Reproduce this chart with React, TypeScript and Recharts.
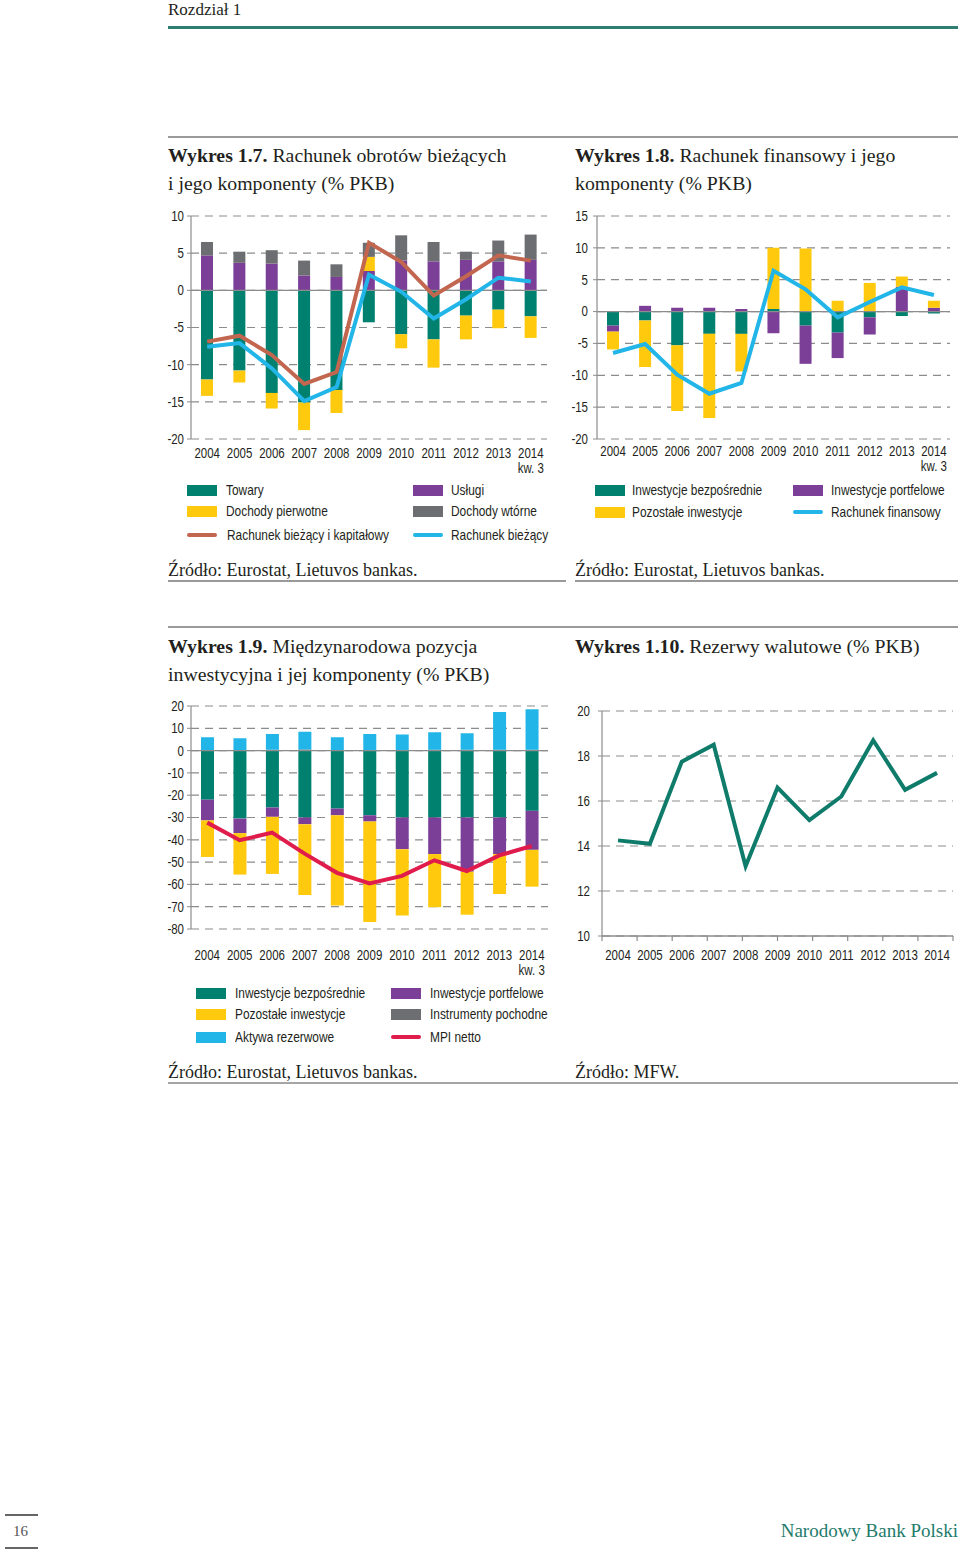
import React from "react";
import {
  ComposedChart,
  Bar,
  Line,
  XAxis,
  YAxis,
  CartesianGrid,
  ReferenceLine,
} from "recharts";

// categories
const years = ["2004", "2005", "2006", "2007", "2008", "2009", "2010", "2011", "2012", "2013", "2014"];

// Wykres 1.7 - rachunek obrotów bieżących (% PKB)
const towary = [-12.0, -10.8, -13.8, -15.1, -13.4, -4.3, -5.9, -6.6, -3.4, -2.6, -3.5];
const uslugi = [4.7, 3.7, 3.6, 2.0, 1.8, 2.6, 4.0, 3.9, 4.1, 3.9, 4.1];
const dochodyPierwotne = [-2.2, -1.6, -2.1, -3.7, -3.1, 1.9, -1.9, -3.8, -3.2, -2.5, -2.9];
const dochodyWtorne = [1.8, 1.5, 1.8, 2.0, 1.7, 1.9, 3.4, 2.6, 1.1, 2.8, 3.4];
const rachBiezKap = [-6.9, -6.1, -8.7, -12.6, -11.0, 6.4, 3.8, -0.7, 1.9, 4.7, 4.0];
const rachBiez = [-7.6, -7.1, -10.5, -14.9, -13.0, 2.1, -0.2, -3.8, -1.2, 1.7, 1.2];
const ticks17 = [-20, -15, -10, -5, 0, 5, 10];

// Wykres 1.8 - rachunek finansowy (% PKB)
const bezp18 = [-2.2, -1.4, -5.3, -3.5, -3.5, 0.4, -2.2, -3.3, -0.9, -0.7, -0.3];
const portf18 = [-0.95, 0.9, 0.6, 0.6, 0.4, -3.4, -6.0, -4.0, -2.7, 3.9, 0.6];
const pozost18 = [-2.8, -7.3, -10.3, -13.2, -5.9, 9.6, 9.9, 1.7, 4.5, 1.6, 1.1];
const rachFin = [-6.5, -5.1, -9.9, -12.9, -11.2, 6.4, 3.5, -0.9, 1.5, 3.8, 2.6];
const ticks18 = [-20, -15, -10, -5, 0, 5, 10, 15];

// Wykres 1.9 - MPI (% PKB)
const bezp19 = [-22, -30.5, -25.5, -30, -26, -29, -30, -30, -30, -30, -27];
const portf19 = [-9.3, -6.5, -4.2, -3.0, -3.0, -2.8, -14.2, -16.4, -24.3, -16.4, -17.5];
const pozost19 = [-16.4, -18.6, -25.6, -31.7, -40.5, -45.1, -29.8, -23.8, -19.3, -17.9, -16.5];
const pochodne19 = [0.3, 0.3, 0.4, 0.5, 0.3, 0.3, 0.3, 0.4, 0.4, 0.4, 0.4];
const rezerwy19 = [5.7, 5.2, 7.1, 8.0, 5.7, 7.2, 6.9, 7.8, 7.4, 16.9, 18.1];
const mpiNetto = [-32.3, -40.2, -36.8, -46.2, -54.8, -59.6, -56.2, -49.2, -54.0, -47.0, -42.8];
const ticks19 = [-80, -70, -60, -50, -40, -30, -20, -10, 0, 10, 20];

// Wykres 1.10 - rezerwy walutowe (% PKB)
const rezerwyWal = [14.25, 14.1, 17.75, 18.5, 13.1, 16.6, 15.15, 16.2, 18.7, 16.5, 17.25];
const ticks110 = [10, 12, 14, 16, 18, 20];
const boundaryTicks = [0, 1, 2, 3, 4, 5, 6, 7, 8, 9, 10, 11];

const data17 = years.map((year, i) => ({
  year,
  towary: towary[i],
  uslugi: uslugi[i],
  pierwotne: dochodyPierwotne[i],
  wtorne: dochodyWtorne[i],
  biezKap: rachBiezKap[i],
  biez: rachBiez[i],
}));
const data18 = years.map((year, i) => ({
  year,
  bezp: bezp18[i],
  portf: portf18[i],
  pozost: pozost18[i],
  fin: rachFin[i],
}));
const data19 = years.map((year, i) => ({
  year,
  bezp: bezp19[i],
  portf: portf19[i],
  pozost: pozost19[i],
  pochodne: pochodne19[i],
  rezerwy: rezerwy19[i],
  mpi: mpiNetto[i],
}));
const data110 = years.map((year, i) => ({ year, rez: rezerwyWal[i] }));

// no narrow sans installed, so Liberation Sans is squeezed horizontally
const SANS = "'Liberation Sans', Arial, sans-serif";
const NARROW = 0.82;
const SERIF = "'Liberation Serif', 'Times New Roman', serif";
const TXT = "#231f20";
const GRID = "#8c8c8c";
const C = {
  teal: "#00806f",
  yellow: "#ffc90e",
  purple: "#7b3f98",
  grey: "#6d6e71",
  cyan: "#22b5e8",
  brown: "#c2664f",
  red: "#e01c4c",
  green: "#0f7b6a",
};

const NText = ({ x, y, anchor = "middle", children }: any) => (
  <text
    transform={`translate(${x},${y}) scale(${NARROW},1)`}
    textAnchor={anchor}
    dominantBaseline="central"
    fill={TXT}
    fontSize={14}
    fontFamily={SANS}
  >
    {children}
  </text>
);

const YTick = ({ x, y, payload }: any) => (
  <NText x={x} y={y} anchor="end">
    {payload.value}
  </NText>
);

const YearTick = ({ x, y, payload, dy0, kw }: any) => (
  <g>
    <NText x={x} y={y + dy0}>{payload.value}</NText>
    {kw && payload.value === "2014" && (
      <NText x={x + 13} y={y + dy0 + 15} anchor="end">
        kw. 3
      </NText>
    )}
  </g>
);

const LegendItem = ({ left, textLeft, cy, color, label, line }: any) => (
  <>
    <div
      style={{
        position: "absolute",
        left,
        top: line ? cy - 2 : cy - 5.5,
        width: 30,
        height: line ? 4 : 11,
        borderRadius: line ? 2 : 0,
        background: color,
      }}
    />
    <div
      style={{
        position: "absolute",
        left: textLeft,
        top: cy - 9,
        lineHeight: "18px",
        fontSize: 14.5,
        fontFamily: SANS,
        color: TXT,
        whiteSpace: "nowrap",
        transform: `scaleX(${NARROW})`,
        transformOrigin: "left center",
      }}
    >
      {label}
    </div>
  </>
);

const Title = ({ left, top, bold, children }: any) => (
  <div
    style={{
      position: "absolute",
      left,
      top,
      fontFamily: SERIF,
      fontSize: 19.8,
      lineHeight: "28px",
      color: TXT,
      whiteSpace: "nowrap",
    }}
  >
    <b>{bold}</b> {children}
  </div>
);

const Source = ({ left, top, children }: any) => (
  <div style={{ position: "absolute", left, top, fontFamily: SERIF, fontSize: 18, lineHeight: "20px", color: TXT, whiteSpace: "nowrap" }}>
    {children}
  </div>
);

const HLine = ({ left, right, top, color = "#999", h = 1.5 }: any) => (
  <div style={{ position: "absolute", left, top, width: right - left, height: h, background: color }} />
);

const yAxisProps = {
  width: 41,
  axisLine: { stroke: GRID, strokeWidth: 1.2 },
  tickLine: { stroke: GRID },
  tickSize: 4,
  tickMargin: 3,
  tick: (p: any) => <YTick {...p} />,
  interval: 0 as const,
  allowDataOverflow: true,
};

const Chart17 = () => (
  <ComposedChart width={402} height={280} data={data17} stackOffset="sign" barSize={12} margin={{ top: 16, right: 5, bottom: 0, left: 0 }}>
    <CartesianGrid vertical={false} stroke={GRID} strokeDasharray="8 6" strokeWidth={1.2} />
    <XAxis dataKey="year" axisLine={false} tickLine={false} tickSize={0} tickMargin={0} height={41} interval={0} tick={(p: any) => <YearTick {...p} dy0={14} kw />} />
    <YAxis domain={[-20, 10]} ticks={ticks17} {...yAxisProps} />
    <ReferenceLine y={0} stroke={GRID} strokeWidth={1.3} />
    <Bar dataKey="towary" stackId="s" fill={C.teal} isAnimationActive={false} />
    <Bar dataKey="uslugi" stackId="s" fill={C.purple} isAnimationActive={false} />
    <Bar dataKey="pierwotne" stackId="s" fill={C.yellow} isAnimationActive={false} />
    <Bar dataKey="wtorne" stackId="s" fill={C.grey} isAnimationActive={false} />
    <Line dataKey="biezKap" type="linear" stroke={C.brown} strokeWidth={4} dot={false} isAnimationActive={false} />
    <Line dataKey="biez" type="linear" stroke={C.cyan} strokeWidth={4} dot={false} isAnimationActive={false} />
  </ComposedChart>
);

const Chart18 = () => (
  <ComposedChart width={399} height={280} data={data18} stackOffset="sign" barSize={12} margin={{ top: 16, right: 5, bottom: 0, left: 0 }}>
    <CartesianGrid vertical={false} stroke={GRID} strokeDasharray="8 6" strokeWidth={1.2} />
    <XAxis dataKey="year" axisLine={false} tickLine={false} tickSize={0} tickMargin={0} height={41} interval={0} tick={(p: any) => <YearTick {...p} dy0={12} kw />} />
    <YAxis domain={[-20, 15]} ticks={ticks18} {...yAxisProps} tickMargin={5} />
    <ReferenceLine y={0} stroke={GRID} strokeWidth={1.3} />
    <Bar dataKey="bezp" stackId="s" fill={C.teal} isAnimationActive={false} />
    <Bar dataKey="portf" stackId="s" fill={C.purple} isAnimationActive={false} />
    <Bar dataKey="pozost" stackId="s" fill={C.yellow} isAnimationActive={false} />
    <Line dataKey="fin" type="linear" stroke={C.cyan} strokeWidth={4} dot={false} isAnimationActive={false} />
  </ComposedChart>
);

const Chart19 = () => (
  <ComposedChart width={403} height={289} data={data19} stackOffset="sign" barSize={13} margin={{ top: 16, right: 5, bottom: 0, left: 0 }}>
    <CartesianGrid vertical={false} stroke={GRID} strokeDasharray="8 6" strokeWidth={1.2} />
    <XAxis dataKey="year" axisLine={false} tickLine={false} tickSize={0} tickMargin={0} height={50} interval={0} tick={(p: any) => <YearTick {...p} dy0={26} kw />} />
    <YAxis domain={[-80, 20]} ticks={ticks19} {...yAxisProps} />
    <ReferenceLine y={0} stroke={GRID} strokeWidth={1.3} />
    <Bar dataKey="bezp" stackId="s" fill={C.teal} isAnimationActive={false} />
    <Bar dataKey="portf" stackId="s" fill={C.purple} isAnimationActive={false} />
    <Bar dataKey="pozost" stackId="s" fill={C.yellow} isAnimationActive={false} />
    <Bar dataKey="pochodne" stackId="s" fill={C.grey} isAnimationActive={false} />
    <Bar dataKey="rezerwy" stackId="s" fill={C.cyan} isAnimationActive={false} />
    <Line dataKey="mpi" type="linear" stroke={C.red} strokeWidth={4} dot={false} isAnimationActive={false} />
  </ComposedChart>
);

const Chart110 = () => (
  <ComposedChart width={402} height={282} data={data110} margin={{ top: 21, right: 5, bottom: 0, left: 0 }}>
    <CartesianGrid xAxisId="cat" vertical={false} stroke={GRID} strokeDasharray="8 6" strokeWidth={1.2} />
    <XAxis
      xAxisId="b"
      type="number"
      domain={[0, 11]}
      ticks={boundaryTicks}
      interval={0}
      allowDataOverflow
      height={6}
      tickSize={5}
      axisLine={{ stroke: GRID, strokeWidth: 1.3 }}
      tickLine={{ stroke: GRID, strokeWidth: 1.2 }}
      tickFormatter={() => ""}
    />
    <XAxis
      xAxisId="cat"
      dataKey="year"
      padding={{ left: 16, right: 16 }}
      axisLine={false}
      tickLine={false}
      tickSize={0}
      tickMargin={0}
      height={30}
      interval={0}
      tick={(p: any) => <YearTick {...p} dy0={13} />}
    />
    <YAxis domain={[10, 20]} ticks={ticks110} {...yAxisProps} width={46} tickMargin={8} />
    <Line xAxisId="cat" dataKey="rez" type="linear" stroke={C.green} strokeWidth={4} dot={false} isAnimationActive={false} />
  </ComposedChart>
);

export default function App() {
  return (
    <div style={{ position: "absolute", left: 0, top: 0, width: 960, height: 1550, background: "#fff", overflow: "hidden" }}>
      {/* header */}
      <div style={{ position: "absolute", left: 168, top: 0, fontFamily: SERIF, fontSize: 17, lineHeight: "20px", color: TXT }}>Rozdział 1</div>
      <HLine left={168} right={958} top={26} h={3} color="#2e7f71" />
      <HLine left={168} right={958} top={136} h={1.5} color="#9a9a9a" />

      {/* 1.7 */}
      <Title left={168} top={141} bold="Wykres 1.7.">
        Rachunek obrotów bieżących
        <br />i jego komponenty (% PKB)
      </Title>
      <div style={{ position: "absolute", left: 150, top: 200 }}>
        <Chart17 />
      </div>
      <LegendItem left={187} textLeft={226} cy={490} color={C.teal} label="Towary" />
      <LegendItem left={413} textLeft={451} cy={490} color={C.purple} label="Usługi" />
      <LegendItem left={187} textLeft={226} cy={511} color={C.yellow} label="Dochody pierwotne" />
      <LegendItem left={413} textLeft={451} cy={511} color={C.grey} label="Dochody wtórne" />
      <LegendItem left={187} textLeft={227} cy={535} color={C.brown} label="Rachunek bieżący i kapitałowy" line />
      <LegendItem left={413} textLeft={451} cy={535} color={C.cyan} label="Rachunek bieżący" line />
      <Source left={168} top={560}>Źródło: Eurostat, Lietuvos bankas.</Source>
      <HLine left={168} right={566} top={580} />

      {/* 1.8 */}
      <Title left={575} top={141} bold="Wykres 1.8.">
        Rachunek finansowy i jego
        <br />
        komponenty (% PKB)
      </Title>
      <div style={{ position: "absolute", left: 556, top: 200 }}>
        <Chart18 />
      </div>
      <LegendItem left={595} textLeft={632} cy={490} color={C.teal} label="Inwestycje bezpośrednie" />
      <LegendItem left={793} textLeft={831} cy={490} color={C.purple} label="Inwestycje portfelowe" />
      <LegendItem left={595} textLeft={632} cy={512} color={C.yellow} label="Pozostałe inwestycje" />
      <LegendItem left={793} textLeft={831} cy={512} color={C.cyan} label="Rachunek finansowy" line />
      <Source left={575} top={560}>Źródło: Eurostat, Lietuvos bankas.</Source>
      <HLine left={575} right={958} top={580} />

      <HLine left={168} right={958} top={626} h={1.5} color="#9a9a9a" />

      {/* 1.9 */}
      <Title left={168} top={632} bold="Wykres 1.9.">
        Międzynarodowa pozycja
        <br />
        inwestycyjna i jej komponenty (% PKB)
      </Title>
      <div style={{ position: "absolute", left: 150, top: 690 }}>
        <Chart19 />
      </div>
      <LegendItem left={196} textLeft={235} cy={993} color={C.teal} label="Inwestycje bezpośrednie" />
      <LegendItem left={391} textLeft={430} cy={993} color={C.purple} label="Inwestycje portfelowe" />
      <LegendItem left={196} textLeft={235} cy={1014} color={C.yellow} label="Pozostałe inwestycje" />
      <LegendItem left={391} textLeft={430} cy={1014} color={C.grey} label="Instrumenty pochodne" />
      <LegendItem left={196} textLeft={235} cy={1037} color={C.cyan} label="Aktywa rezerwowe" />
      <LegendItem left={391} textLeft={430} cy={1037} color={C.red} label="MPI netto" line />
      <Source left={168} top={1062}>Źródło: Eurostat, Lietuvos bankas.</Source>

      {/* 1.10 */}
      <Title left={575} top={632} bold="Wykres 1.10.">
        Rezerwy walutowe (% PKB)
      </Title>
      <div style={{ position: "absolute", left: 556, top: 690 }}>
        <Chart110 />
      </div>
      <Source left={575} top={1062}>Źródło: MFW.</Source>
      <HLine left={168} right={958} top={1082} h={2} color="#a5a5a5" />

      {/* footer */}
      <HLine left={5} right={38} top={1514} h={1.5} color="#666" />
      <div style={{ position: "absolute", left: 13, top: 1521, fontFamily: SERIF, fontSize: 15, lineHeight: "20px", color: "#555" }}>16</div>
      <HLine left={5} right={38} top={1547} h={1.5} color="#666" />
      <div style={{ position: "absolute", right: 2, top: 1520, fontFamily: SERIF, fontSize: 19, lineHeight: "22px", color: "#1e7b6b" }}>
        Narodowy Bank Polski
      </div>
    </div>
  );
}
